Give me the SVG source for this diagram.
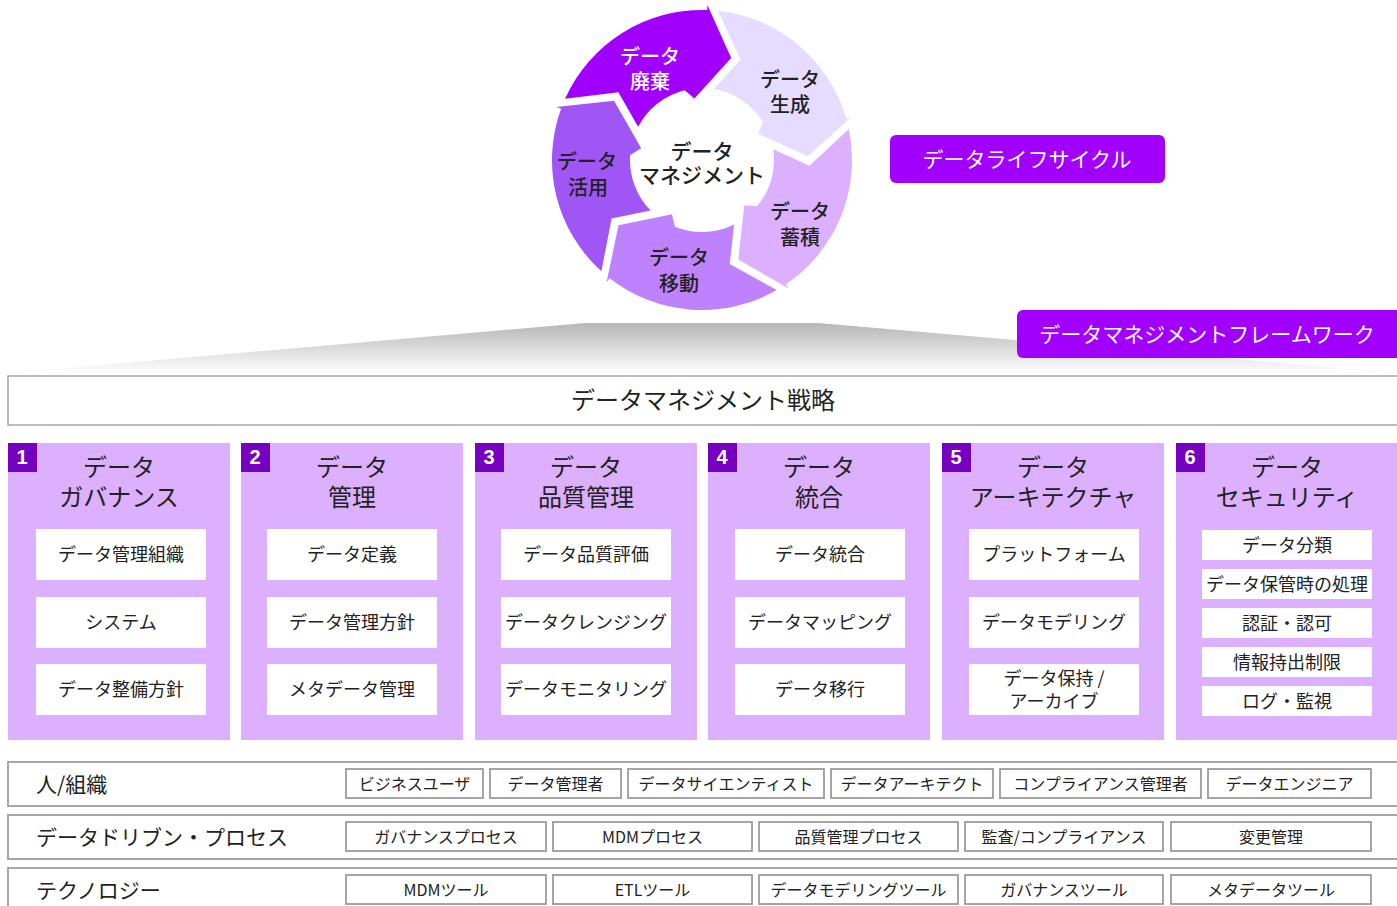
<svg xmlns="http://www.w3.org/2000/svg" width="1397" height="906" viewBox="0 0 1397 906">
<style>
  text { font-family: "Noto Sans CJK JP", "Noto Sans", sans-serif; dominant-baseline: central; text-anchor: middle; fill: #222; transform: translateY(-1.5px); }
  .cyc { font-size: 20px; font-weight: 500; }
  .cycw { fill: #fff; }
  .tag { fill: #A100FF; }
  .tagt { fill: #fff; font-size: 21px; }
  .col { fill: #DCAFFF; }
  .badge { fill: #7500C0; }
  .badget { fill: #fff; font-family: "Liberation Sans", Arial, sans-serif; font-weight: bold; font-size: 20px; }
  .colh { font-size: 24px; }
  .box { fill: #fff; }
  .boxt { font-size: 18px; }
  .row { fill: #fff; stroke: #a6a6a6; stroke-width: 2; }
  .rowl { font-size: 21px; text-anchor: start; }
  .item { fill: #fff; stroke: #9c9c9c; stroke-width: 1.8; }
  .itemt { font-size: 16px; }
</style>
<defs>
  <path id="seg" d="M56.5,-139 A150,150 0 0 1 150,0 L155,0 L102.9,25.6 L61.2,-9.7 L69.2,-19.8 A72,72 0 0 0 31,-65 L64.9,-85.9 Z"/>
  <linearGradient id="band" x1="0" y1="0" x2="0" y2="1">
    <stop offset="0" stop-color="#b6b6b6"/>
    <stop offset="0.6" stop-color="#e2e2e2"/>
    <stop offset="1" stop-color="#ffffff"/>
  </linearGradient>
</defs>

<!-- lifecycle -->
<g id="cycle">
  <g id="seg-haiki">
    <use href="#seg" fill="#A100FF" transform="translate(702,160) rotate(-88)"/>
    <text class="cyc cycw" x="650" y="57">データ<tspan x="650" dy="24">廃棄</tspan></text>
  </g>
  <g id="seg-seisei">
    <use href="#seg" fill="#E6DCFF" transform="translate(702,160) rotate(-16)"/>
    <text class="cyc" x="790" y="80">データ<tspan x="790" dy="24">生成</tspan></text>
  </g>
  <g id="seg-chikuseki">
    <use href="#seg" fill="#DCAFFF" transform="translate(702,160) rotate(56)"/>
    <text class="cyc" x="800" y="212">データ<tspan x="800" dy="25">蓄積</tspan></text>
  </g>
  <g id="seg-ido">
    <use href="#seg" fill="#BE82FF" transform="translate(702,160) rotate(128)"/>
    <text class="cyc" x="679" y="258">データ<tspan x="679" dy="25">移動</tspan></text>
  </g>
  <g id="seg-katsuyo">
    <use href="#seg" fill="#A055F5" transform="translate(702,160) rotate(200)"/>
    <text class="cyc" x="587" y="162">データ<tspan x="588" dy="25">活用</tspan></text>
  </g>
  <g id="center">
    <text class="cyc" x="702" y="151" style="font-size:21px">データ<tspan x="702" dy="24">マネジメント</tspan></text>
  </g>
</g>

<g id="tag-lifecycle">
  <rect class="tag" x="890" y="135" width="275" height="48" rx="6"/>
  <text class="tagt" x="1027" y="159">データライフサイクル</text>
</g>

<!-- band -->
<polygon points="585,323 818,323 1397,373 10,373" fill="url(#band)"/>

<g id="tag-framework">
  <rect class="tag" x="1017" y="310" width="385" height="48" rx="6"/>
  <text class="tagt" x="1207" y="334">データマネジメントフレームワーク</text>
</g>

<g id="strategy">
  <rect x="8" y="376" width="1395" height="49" fill="#fff" stroke="#a6a6a6" stroke-width="1.5"/>
  <text x="703" y="400" style="font-size:24px">データマネジメント戦略</text>
</g>

<!-- columns -->
<g id="col1">
  <rect class="col" x="8" y="443" width="222" height="297"/>
  <rect class="badge" x="8" y="443" width="29" height="29"/>
  <text class="badget" x="22" y="458">1</text>
  <text class="colh" x="119" y="467">データ<tspan x="119" dy="29">ガバナンス</tspan></text>
  <rect class="box" x="36" y="529" width="170" height="51"/>
  <text class="boxt" x="121" y="554">データ管理組織</text>
  <rect class="box" x="36" y="597" width="170" height="51"/>
  <text class="boxt" x="121" y="622">システム</text>
  <rect class="box" x="36" y="664" width="170" height="51"/>
  <text class="boxt" x="121" y="689">データ整備方針</text>
</g>
<g id="col2">
  <rect class="col" x="241" y="443" width="222" height="297"/>
  <rect class="badge" x="241" y="443" width="29" height="29"/>
  <text class="badget" x="255" y="458">2</text>
  <text class="colh" x="352" y="467">データ<tspan x="352" dy="29">管理</tspan></text>
  <rect class="box" x="267" y="529" width="170" height="51"/>
  <text class="boxt" x="352" y="554">データ定義</text>
  <rect class="box" x="267" y="597" width="170" height="51"/>
  <text class="boxt" x="352" y="622">データ管理方針</text>
  <rect class="box" x="267" y="664" width="170" height="51"/>
  <text class="boxt" x="352" y="689">メタデータ管理</text>
</g>
<g id="col3">
  <rect class="col" x="475" y="443" width="222" height="297"/>
  <rect class="badge" x="475" y="443" width="29" height="29"/>
  <text class="badget" x="489" y="458">3</text>
  <text class="colh" x="586" y="467">データ<tspan x="586" dy="29">品質管理</tspan></text>
  <rect class="box" x="501" y="529" width="170" height="51"/>
  <text class="boxt" x="586" y="554">データ品質評価</text>
  <rect class="box" x="501" y="597" width="170" height="51"/>
  <text class="boxt" x="586" y="622">データクレンジング</text>
  <rect class="box" x="501" y="664" width="170" height="51"/>
  <text class="boxt" x="586" y="689">データモニタリング</text>
</g>
<g id="col4">
  <rect class="col" x="708" y="443" width="222" height="297"/>
  <rect class="badge" x="708" y="443" width="29" height="29"/>
  <text class="badget" x="722" y="458">4</text>
  <text class="colh" x="819" y="467">データ<tspan x="819" dy="29">統合</tspan></text>
  <rect class="box" x="735" y="529" width="170" height="51"/>
  <text class="boxt" x="820" y="554">データ統合</text>
  <rect class="box" x="735" y="597" width="170" height="51"/>
  <text class="boxt" x="820" y="622">データマッピング</text>
  <rect class="box" x="735" y="664" width="170" height="51"/>
  <text class="boxt" x="820" y="689">データ移行</text>
</g>
<g id="col5">
  <rect class="col" x="942" y="443" width="222" height="297"/>
  <rect class="badge" x="942" y="443" width="29" height="29"/>
  <text class="badget" x="956" y="458">5</text>
  <text class="colh" x="1053" y="467">データ<tspan x="1053" dy="29">アーキテクチャ</tspan></text>
  <rect class="box" x="969" y="529" width="170" height="51"/>
  <text class="boxt" x="1054" y="554">プラットフォーム</text>
  <rect class="box" x="969" y="597" width="170" height="51"/>
  <text class="boxt" x="1054" y="622">データモデリング</text>
  <rect class="box" x="969" y="664" width="170" height="51"/>
  <text class="boxt" x="1054" y="678">データ保持 /<tspan x="1054" dy="23">アーカイブ</tspan></text>
</g>
<g id="col6">
  <rect class="col" x="1176" y="443" width="222" height="297"/>
  <rect class="badge" x="1176" y="443" width="29" height="29"/>
  <text class="badget" x="1190" y="458">6</text>
  <text class="colh" x="1287" y="467">データ<tspan x="1287" dy="29">セキュリティ</tspan></text>
  <rect class="box" x="1202" y="530" width="170" height="30"/>
  <text class="boxt" x="1287" y="545">データ分類</text>
  <rect class="box" x="1202" y="569" width="170" height="30"/>
  <text class="boxt" x="1287" y="584">データ保管時の処理</text>
  <rect class="box" x="1202" y="608" width="170" height="30"/>
  <text class="boxt" x="1287" y="623">認証・認可</text>
  <rect class="box" x="1202" y="647" width="170" height="30"/>
  <text class="boxt" x="1287" y="662">情報持出制限</text>
  <rect class="box" x="1202" y="686" width="170" height="30"/>
  <text class="boxt" x="1287" y="701">ログ・監視</text>
</g>

<!-- rows -->
<g id="row-people">
  <rect class="row" x="8" y="762" width="1395" height="44"/>
  <text class="rowl" x="36" y="784">人/組織</text>
  <rect class="item" x="346" y="769" width="137" height="29"/>
  <text class="itemt" x="414.5" y="784">ビジネスユーザ</text>
  <rect class="item" x="490" y="769" width="131" height="29"/>
  <text class="itemt" x="555.5" y="784">データ管理者</text>
  <rect class="item" x="628" y="769" width="196" height="29"/>
  <text class="itemt" x="726" y="784">データサイエンティスト</text>
  <rect class="item" x="831" y="769" width="162" height="29"/>
  <text class="itemt" x="912" y="784">データアーキテクト</text>
  <rect class="item" x="1000" y="769" width="201" height="29"/>
  <text class="itemt" x="1100.5" y="784">コンプライアンス管理者</text>
  <rect class="item" x="1208" y="769" width="163" height="29"/>
  <text class="itemt" x="1289.5" y="784">データエンジニア</text>
</g>
<g id="row-process">
  <rect class="row" x="8" y="815" width="1395" height="44"/>
  <text class="rowl" x="36" y="837">データドリブン・プロセス</text>
  <rect class="item" x="346" y="822" width="200" height="29"/>
  <text class="itemt" x="446" y="837">ガバナンスプロセス</text>
  <rect class="item" x="553" y="822" width="199" height="29"/>
  <text class="itemt" x="652.5" y="837">MDMプロセス</text>
  <rect class="item" x="759" y="822" width="199" height="29"/>
  <text class="itemt" x="858.5" y="837">品質管理プロセス</text>
  <rect class="item" x="965" y="822" width="198" height="29"/>
  <text class="itemt" x="1064" y="837">監査/コンプライアンス</text>
  <rect class="item" x="1171" y="822" width="200" height="29"/>
  <text class="itemt" x="1271" y="837">変更管理</text>
</g>
<g id="row-tech">
  <rect class="row" x="8" y="868" width="1395" height="44"/>
  <text class="rowl" x="36" y="890">テクノロジー</text>
  <rect class="item" x="346" y="875" width="200" height="29"/>
  <text class="itemt" x="446" y="890">MDMツール</text>
  <rect class="item" x="553" y="875" width="199" height="29"/>
  <text class="itemt" x="652.5" y="890">ETLツール</text>
  <rect class="item" x="759" y="875" width="199" height="29"/>
  <text class="itemt" x="858.5" y="890">データモデリングツール</text>
  <rect class="item" x="965" y="875" width="198" height="29"/>
  <text class="itemt" x="1064" y="890">ガバナンスツール</text>
  <rect class="item" x="1171" y="875" width="200" height="29"/>
  <text class="itemt" x="1271" y="890">メタデータツール</text>
</g>
<g id="connectors"/>
</svg>
